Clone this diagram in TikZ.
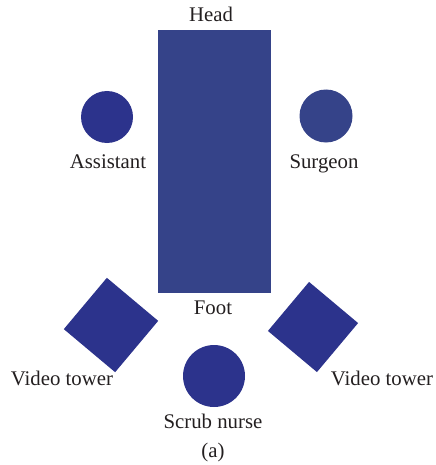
\documentclass[tikz,border=0pt]{standalone}
\usepackage{fontspec}
\setmainfont{Liberation Serif}
\usetikzlibrary{positioning}
\definecolor{tableBlue}{RGB}{53,67,137}
\definecolor{staffBlue}{RGB}{44,51,140}
\definecolor{labelGray}{RGB}{35,31,32}
\tikzset{
	person/.style={circle, fill=staffBlue, inner sep=0pt, minimum size=26pt},
	tower/.style={rectangle, fill=staffBlue, inner sep=0pt, minimum size=32.5pt, rotate=-40},
	roomlabel/.style={font=\fontsize{10.4}{12}\selectfont, text=labelGray, inner sep=0pt, anchor=base}
}

\begin{document}
\begin{tikzpicture}[x=0.5pt, y=-0.5pt]
			\useasboundingbox (0,0) rectangle (435,465);
			\node[fill=tableBlue, inner sep=0pt, minimum width=56.5pt, minimum height=131.5pt] (table) at (214.5,161.5) {};
			\node[person] (assistant) at (107,117) {};
			\node[person, fill=tableBlue, minimum size=26.5pt] (surgeon) at (326,116) {};
			\node[person, minimum size=31pt] (nurse) at (214,376) {};
			\node[tower, minimum size=33.5pt] (towerL) at (111,325) {};
			\node[tower, minimum size=32pt] (towerR) at (313,327) {};
			\node[roomlabel] (head) at (211,22) {Head};
			\node[roomlabel] (foot) at (213,314) {Foot};
			\node[roomlabel] (assistantLbl) at (108,168) {Assistant};
			\node[roomlabel] (surgeonLbl) at (324,168) {Surgeon};
			\node[roomlabel] (towerLLbl) at (62,385) {Video tower};
			\node[roomlabel] (towerRLbl) at (382,385) {Video tower};
			\node[roomlabel] (nurseLbl) at (213,428) {Scrub nurse};
			\node[roomlabel] (caption) at (213,457) {(a)};
		\end{tikzpicture}
\end{document}
